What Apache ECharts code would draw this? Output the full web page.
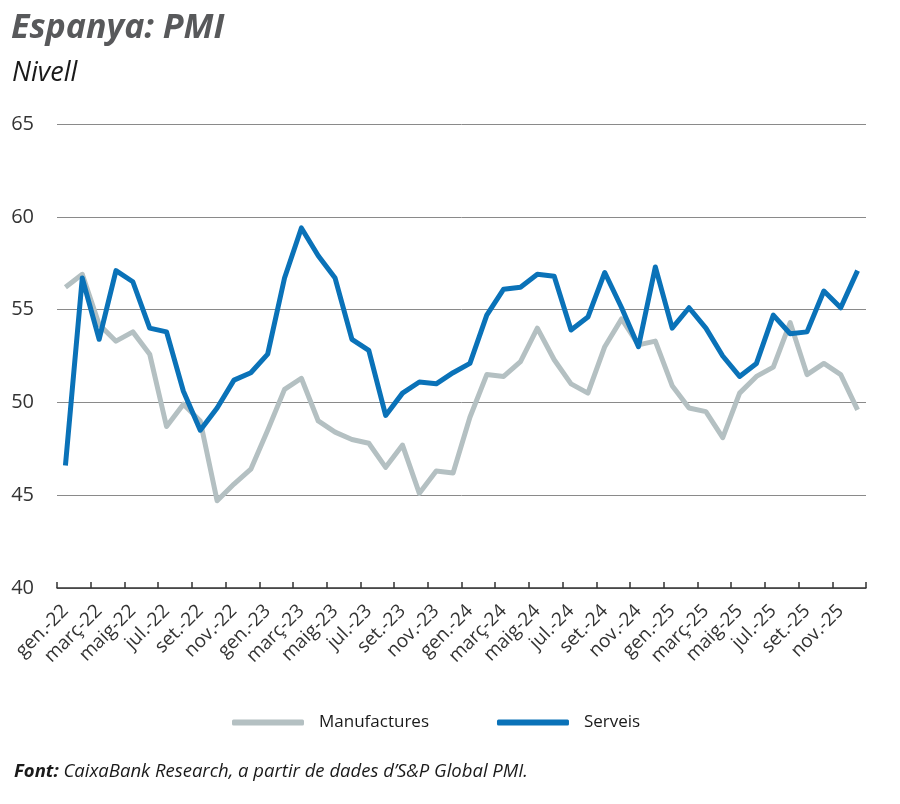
<!DOCTYPE html>
<html>
<head>
<meta charset="utf-8">
<script src="https://cdn.jsdelivr.net/npm/echarts@6/dist/echarts.min.js"></script>
<style>
html,body{margin:0;padding:0;background:#fff;}
#chart{width:900px;height:804px;}
</style>
</head>
<body>
<div id="chart"></div>
<script>
var categories = [
  'gen.-22','febr.-22','març-22','abr.-22','maig-22','juny-22','jul.-22','ag.-22','set.-22','oct.-22','nov.-22','des.-22',
  'gen.-23','febr.-23','març-23','abr.-23','maig-23','juny-23','jul.-23','ag.-23','set.-23','oct.-23','nov.-23','des.-23',
  'gen.-24','febr.-24','març-24','abr.-24','maig-24','juny-24','jul.-24','ag.-24','set.-24','oct.-24','nov.-24','des.-24',
  'gen.-25','febr.-25','març-25','abr.-25','maig-25','juny-25','jul.-25','ag.-25','set.-25','oct.-25','nov.-25','des.-25'
];
var manufactures = [
  56.2, 56.9, 54.2, 53.3, 53.8, 52.6, 48.7, 49.9, 49.0, 44.7, 45.6, 46.4,
  48.5, 50.7, 51.3, 49.0, 48.4, 48.0, 47.8, 46.5, 47.7, 45.1, 46.3, 46.2,
  49.2, 51.5, 51.4, 52.2, 54.0, 52.3, 51.0, 50.5, 53.0, 54.5, 53.1, 53.3,
  50.9, 49.7, 49.5, 48.1, 50.5, 51.4, 51.9, 54.3, 51.5, 52.1, 51.5, 49.6
];
var serveis = [
  46.6, 56.7, 53.4, 57.1, 56.5, 54.0, 53.8, 50.6, 48.5, 49.7, 51.2, 51.6,
  52.6, 56.7, 59.4, 57.9, 56.7, 53.4, 52.8, 49.3, 50.5, 51.1, 51.0, 51.6,
  52.1, 54.7, 56.1, 56.2, 56.9, 56.8, 53.9, 54.6, 57.0, 55.1, 53.0, 57.3,
  54.0, 55.1, 54.0, 52.5, 51.4, 52.1, 54.7, 53.7, 53.8, 56.0, 55.1, 57.1
];
var yTicks = [40, 45, 50, 55, 60, 65];

var FONT = '"Open Sans", "Noto Sans", sans-serif';
var chart = echarts.init(document.getElementById('chart'), null, {renderer: 'canvas'});
chart.setOption({
  animation: false,
  backgroundColor: '#ffffff',
  title: [
    {text: 'Espanya: PMI', left: 6, top: 6,
     textStyle: {fontFamily: FONT, fontSize: 34, fontWeight: 'bold', fontStyle: 'italic', color: '#58595b'}},
    {text: 'Nivell', left: 7, top: 55,
     textStyle: {fontFamily: FONT, fontSize: 27, fontWeight: 'normal', fontStyle: 'italic', color: '#1a1a1a'}},
    {text: '{b|Font:} CaixaBank Research, a partir de dades d\u2019S&P Global PMI.', left: 9, top: 757,
     textStyle: {fontFamily: FONT, fontSize: 18.5, fontStyle: 'italic', fontWeight: 'normal', color: '#1a1a1a',
       rich: {b: {fontFamily: FONT, fontSize: 18.5, fontStyle: 'italic', fontWeight: 'bold', color: '#1a1a1a'}}}}
  ],
  legend: {
    left: 227, top: 709,
    itemWidth: 72, itemHeight: 6, itemGap: 68,
    icon: 'roundRect',
    textStyle: {fontFamily: FONT, fontSize: 17, color: '#1a1a1a', padding: [0, 0, 0, 10]},
    data: ['Manufactures', 'Serveis']
  },
  grid: {left: 57, right: 34, top: 124, bottom: 216, containLabel: false},
  xAxis: {
    type: 'category',
    data: categories,
    boundaryGap: true,
    axisLine: {lineStyle: {color: '#333333', width: 1.5}},
    axisTick: {show: true, inside: true, length: 6, interval: 1, lineStyle: {color: '#333333', width: 1.5}},
    axisLabel: {interval: 1, rotate: 45, margin: 20, fontFamily: FONT, fontSize: 19, color: '#333333'},
    splitLine: {show: false}
  },
  yAxis: {
    type: 'value',
    min: yTicks[0], max: yTicks[yTicks.length - 1], interval: 5,
    axisLine: {show: false},
    axisTick: {show: false},
    axisLabel: {margin: 23, fontFamily: FONT, fontSize: 20, color: '#333333'},
    splitLine: {lineStyle: {color: '#8a8a8a', width: 1}}
  },
  series: [
    {name: 'Manufactures', type: 'line', data: manufactures, symbol: 'none',
     lineStyle: {color: '#b4c0c2', width: 5, join: 'round'}, itemStyle: {color: '#b4c0c2'}, z: 2},
    {name: 'Serveis', type: 'line', data: serveis, symbol: 'none',
     lineStyle: {color: '#0a72b8', width: 5, join: 'round'}, itemStyle: {color: '#0a72b8'}, z: 3}
  ]
});
</script>
</body>
</html>
